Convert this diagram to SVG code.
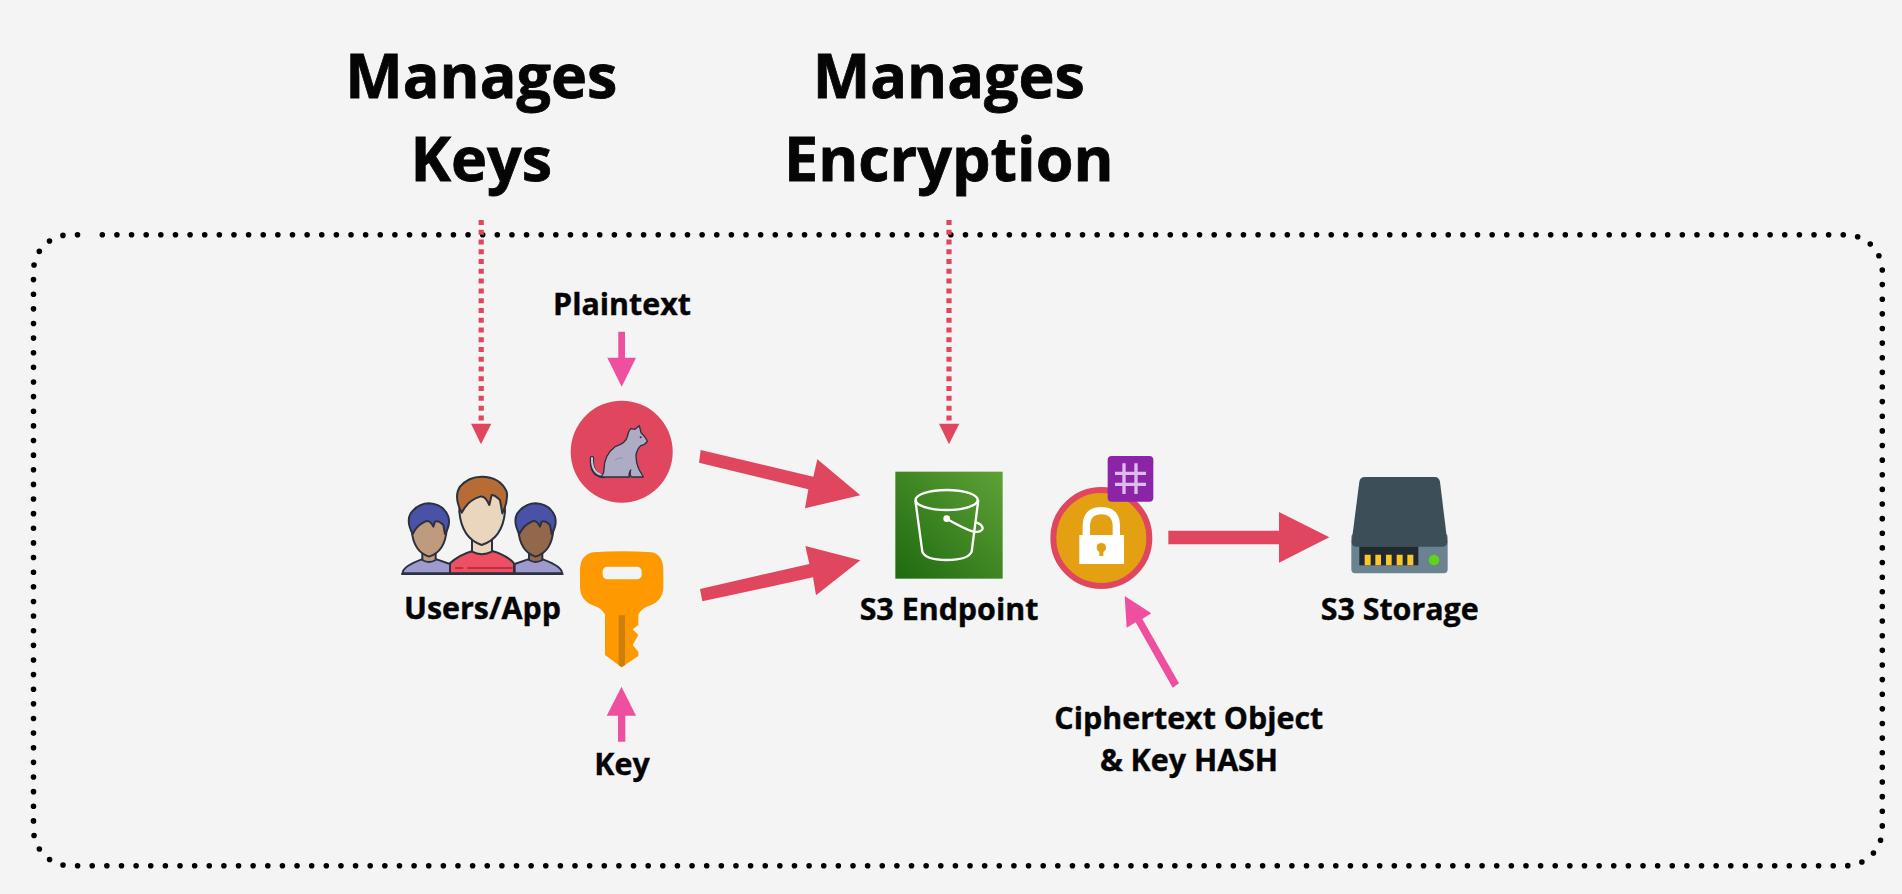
<svg xmlns="http://www.w3.org/2000/svg" width="1902" height="894" viewBox="0 0 1902 894">
<style>
.t{font-family:"Open Sans","Noto Sans","Liberation Sans",sans-serif;font-weight:700;fill:#050505;stroke:#050505;text-anchor:middle}
.big{font-size:61px;stroke-width:.8}
.lab{font-size:30.4px;stroke-width:.4}
.red{fill:#e0475e}
.pink{fill:#ee4f9f}
.dot{fill:none;stroke:#e0475e;stroke-width:5.2;stroke-dasharray:5 4.77}
.ol{stroke:#2a3140;stroke-width:6;stroke-linejoin:round}
.w{fill:none;stroke:#fff;stroke-width:7}
</style>
<defs>
<linearGradient id="s3g" x1="0" y1="1" x2="1" y2="0">
<stop offset="0" stop-color="#1e6a10"/><stop offset="1" stop-color="#5fa136"/>
</linearGradient>
</defs>
<rect width="1902" height="894" fill="#f4f4f4"/>
<path id="boundary" d="M102.3,234.7 H1845.8 A36.5,36.5 0 0 1 1882.3,271.2 V829.2 A36.5,36.5 0 0 1 1845.8,865.7 H70 A36.5,36.5 0 0 1 33.5,829.2 V271.2 A36.5,36.5 0 0 1 70,234.7 H77.7" fill="none" stroke="#000" stroke-width="5.6" stroke-linecap="round" stroke-dasharray="0 14.63"/>
<g id="connectors">
<path class="dot" d="M481.2,220 V421"/>
<polygon class="red" points="471,423.7 491.3,423.7 481,444.3"/>
<path class="dot" d="M949,220 V421"/>
<polygon class="red" points="939,423.7 959.3,423.7 949,444.3"/>
<polygon class="pink" points="618.3,331.7 625,331.7 625,357.7 636,357.7 621.7,386.7 607.3,357.7 618.3,357.7"/>
<polygon class="pink" points="618,741.7 625.3,741.7 625.3,715.7 636,715.7 621.5,686.7 606.7,715.7 618,715.7"/>
<g transform="translate(680,420) scale(.33333)">
<polygon class="red" points="62,90 400,170 412,118 541,226 375,265 385,208 57,128"/>
<polygon class="red" points="60,507 388,432 376,378 541,421 408,526 399,472 67,544"/>
<polygon class="pink" points="1334,528 1414,580 1387,597 1497,790 1478,803 1367,607 1340,623"/>
</g>
<g transform="translate(1140,440) scale(.33333)">
<polygon class="red" points="85,272 417,272 417,216 568,292 417,368 417,313 85,313"/>
</g>
</g>
<g id="title-keys">
<text class="t big" x="481.3" y="97.7">Manages</text>
<text class="t big" x="481.3" y="181">Keys</text>
</g>
<g id="title-encryption">
<text class="t big" x="948.8" y="97.7">Manages</text>
<text class="t big" x="948.8" y="181">Encryption</text>
</g>
<g id="users">
<g transform="translate(380,380) scale(.33333)">
<path class="ol" fill="#9d9bce" d="M68,580 Q66,560 125,538 L170,538 L210,552 V580 Z"/>
<path class="ol" fill="#9d9bce" d="M546,580 Q548,560 489,538 L444,538 L404,552 V580 Z"/>
<path class="ol" fill="#c09a7c" d="M127,515 V540 Q147,552 167,540 V515 Z"/>
<path class="ol" fill="#93674a" d="M447,515 V540 Q467,552 487,540 V515 Z"/>
<path class="ol" fill="#c09a7c" d="M95,450 Q100,515 147,530 Q195,515 200,450 Q190,400 147,400 Q100,400 95,450 Z"/>
<path class="ol" fill="#4a52a8" d="M98,462 Q78,425 92,400 Q115,370 147,370 Q190,372 205,410 Q212,435 195,462 L190,435 Q175,420 165,425 L160,440 Q150,418 135,425 Q115,435 105,450 Z"/>
<path class="ol" fill="#93674a" d="M415,450 Q420,515 467,530 Q515,515 520,450 Q510,400 467,400 Q420,400 415,450 Z"/>
<path class="ol" fill="#4a52a8" d="M418,462 Q398,425 412,400 Q435,370 467,370 Q510,372 525,410 Q532,435 515,462 L510,435 Q495,420 485,425 L480,440 Q470,418 455,425 Q435,435 425,450 Z"/>
<path class="ol" fill="#ef4f63" d="M210,580 V550 Q235,525 280,512 H335 Q380,525 402,550 V580 Z"/>
<path class="ol" fill="#ead5bd" d="M276,480 V515 Q305,530 336,515 V480 Z"/>
<path class="ol" fill="#ead5bd" d="M238,395 Q245,475 305,495 Q368,475 375,395 Q375,330 305,330 Q238,330 238,395 Z"/>
<path class="ol" fill="#b86c35" d="M245,398 Q220,350 240,320 Q265,290 305,290 Q360,290 380,335 Q385,365 367,400 L360,360 Q345,345 335,345 L328,375 Q315,345 300,350 Q270,360 255,382 Z"/>
<path d="M66,582 H548" stroke="#2a3140" stroke-width="6" stroke-linecap="round"/>
<path d="M225,564 H250 M262,564 H398" stroke="#a5283c" stroke-width="4"/>
</g>
<text class="t lab" x="482.5" y="619">Users/App</text>
</g>
<g id="plaintext">
<circle class="red" cx="621.7" cy="451.7" r="51"/>
<g transform="translate(380,380) scale(.33333)">
<path d="M636,234 Q632,285 670,288" fill="none" stroke="#2a3140" stroke-width="13" stroke-linecap="round"/>
<path d="M636,234 Q634,280 670,286" fill="none" stroke="#c7c6d8" stroke-width="6" stroke-linecap="round"/>
<path fill="#adacc4" stroke="#2a3140" stroke-width="4" stroke-linejoin="round" d="M778,137 L783,158 Q798,172 802,184 Q795,195 782,197 Q772,205 768,225 Q768,250 778,270 L790,291 H755 Q748,285 752,270 Q745,282 748,291 H660 Q672,285 672,268 Q672,225 705,200 Q738,190 742,170 Q744,155 752,146 L765,148 Z"/>
<circle cx="782" cy="172" r="3" fill="#2a3140"/>
<path d="M705,240 Q715,232 728,234" fill="none" stroke="#7f7e99" stroke-width="2"/>
</g>
<text class="t lab" x="622" y="315">Plaintext</text>
</g>
<g id="key">
<g transform="translate(380,380) scale(.33333)">
<path fill="#ff9900" d="M640,517 Q725,510 815,517 Q850,525 850,570 V620 Q850,665 800,680 Q780,690 775,705 V735 L758,748 L775,765 L758,795 L775,815 V828 L725,862 L675,825 V705 Q670,690 650,680 Q600,665 600,620 V570 Q600,525 640,517 Z"/>
<rect x="668" y="560" width="117" height="38" rx="14" fill="#f4f4f4"/>
<path d="M716,706 H735 V855 L725,862 L716,856 Z" fill="#cc7f0c"/>
</g>
<text class="t lab" x="622" y="775">Key</text>
</g>
<g id="s3-endpoint">
<g transform="translate(680,420) scale(.33333)">
<rect x="646" y="155" width="322" height="321" fill="url(#s3g)"/>
<ellipse class="w" cx="800" cy="240" rx="93" ry="30"/>
<path class="w" d="M706,240 L727,395 Q735,420 800,420 Q865,420 875,395 L895,240"/>
<circle cx="800" cy="296" r="10" fill="#fff"/>
<path class="w" d="M800,296 Q850,325 880,335 Q905,338 908,325 Q905,310 885,307"/>
</g>
<text class="t lab" x="949" y="620">S3 Endpoint</text>
</g>
<g id="ciphertext">
<g transform="translate(680,420) scale(.33333)">
<circle cx="1264" cy="354" r="144" fill="#e3a013" stroke="#e0475e" stroke-width="18"/>
<rect x="1198" y="345" width="134" height="87" fill="#fff"/>
<path d="M1219,350 V320 Q1219,272 1264,272 Q1309,272 1309,320 V350" fill="none" stroke="#fff" stroke-width="22"/>
<circle cx="1264" cy="383" r="14" fill="#e3a013"/>
<rect x="1258" y="385" width="12" height="23" fill="#e3a013"/>
<rect x="1283" y="108" width="137" height="137" rx="12" fill="#8c24a8"/>
<path d="M1332,130 V222 M1368,130 V222 M1305,160 H1398 M1305,193 H1398" stroke="#dcbcee" stroke-width="10" fill="none"/>
</g>
<text class="t lab" x="1188.8" y="729">Ciphertext Object</text>
<text class="t lab" x="1189" y="771">&amp; Key HASH</text>
</g>
<g id="s3-storage">
<g transform="translate(1140,440) scale(.33333)">
<rect x="634" y="280" width="289" height="120" rx="12" fill="#6b8290"/>
<path fill="#3c4f58" d="M675,111 H885 Q897,111 900,125 L922,305 Q922,320 905,320 H650 Q635,320 635,305 L658,125 Q660,111 675,111 Z"/>
<rect x="658" y="320" width="177" height="56" fill="#1f2a30"/>
<path d="M674,344 h18 v32 h-18 Z M706,344 h17 v32 h-17 Z M738,344 h17 v32 h-17 Z M770,344 h18 v32 h-18 Z M802,344 h18 v32 h-18 Z" fill="#fbc52c"/>
<circle cx="882" cy="360" r="16" fill="#5fd31a"/>
</g>
<text class="t lab" x="1399.7" y="620">S3 Storage</text>
</g>
</svg>
